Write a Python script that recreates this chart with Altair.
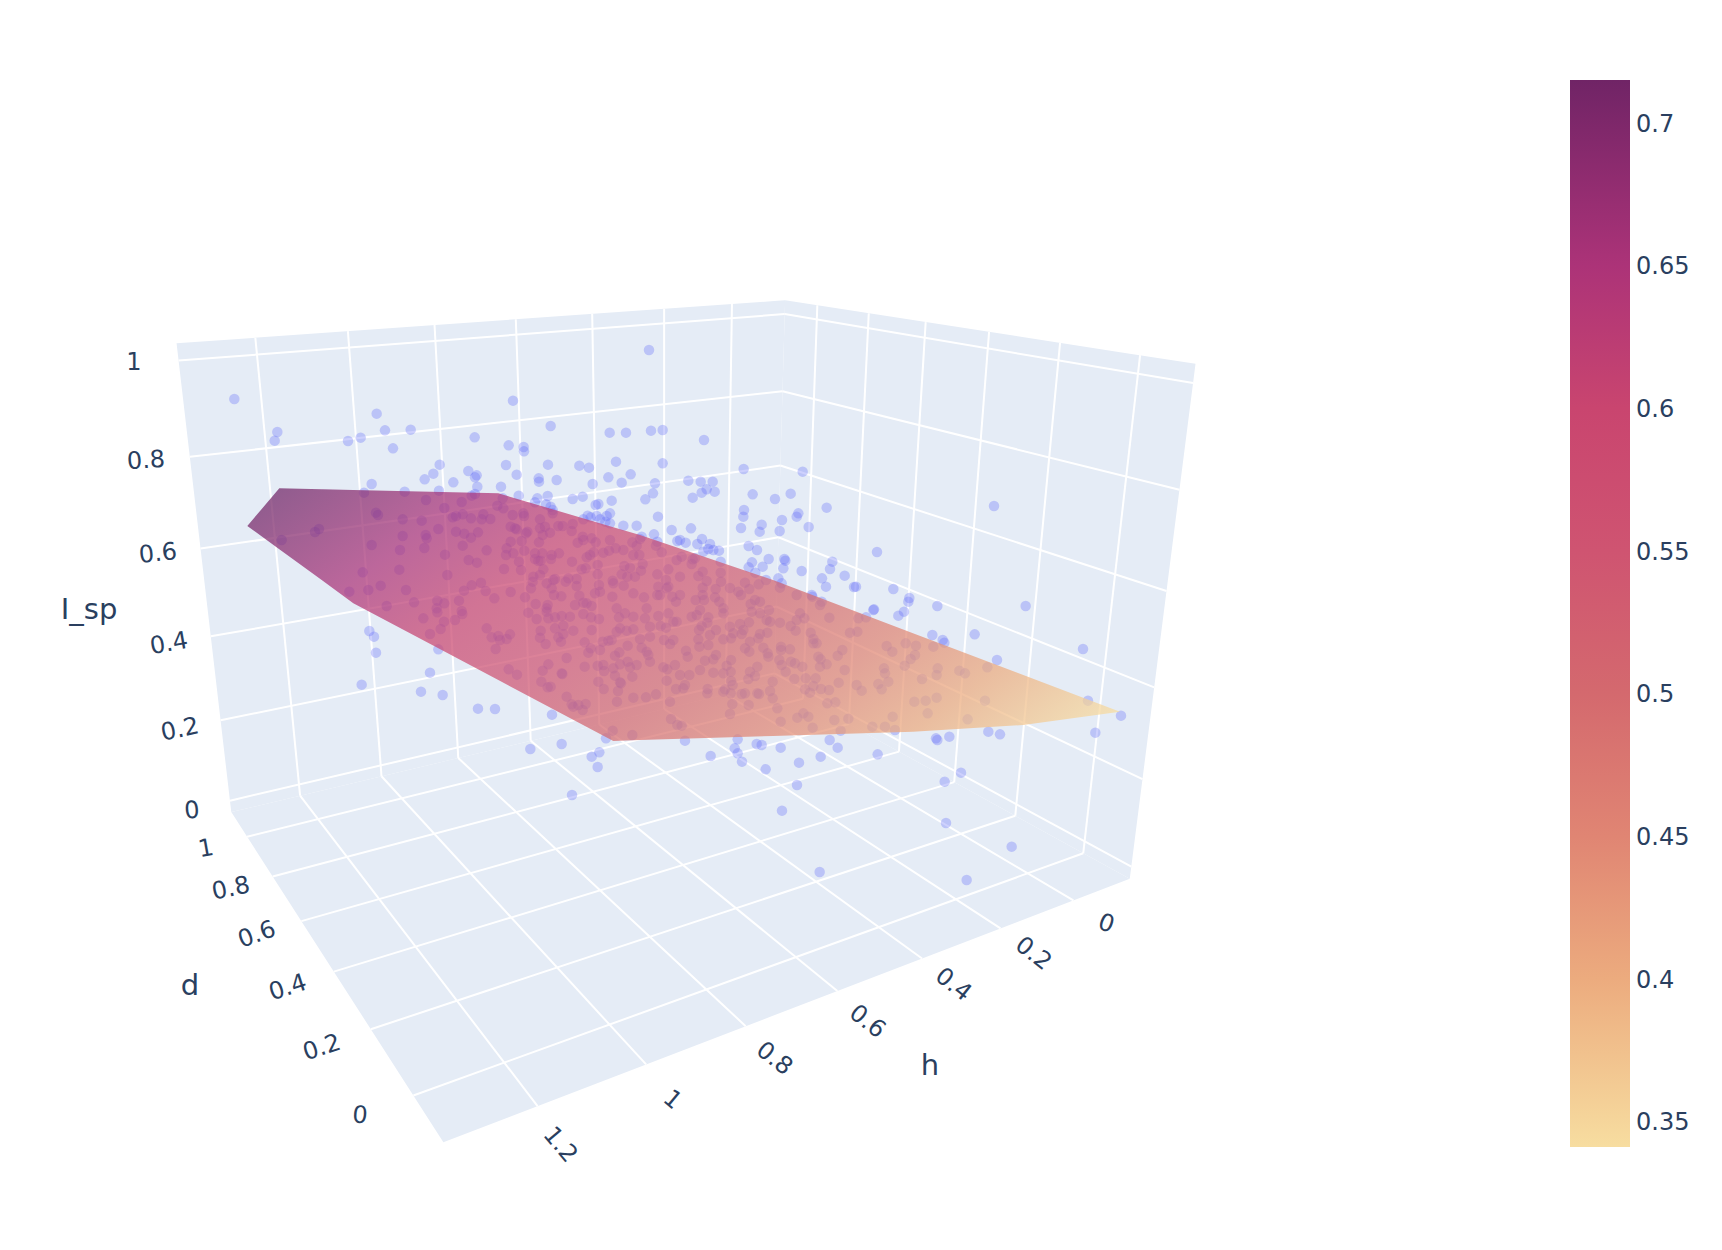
import numpy as np
import pandas as pd
import altair as alt

# ---------- axis values ----------
H_TICKS = [0, 0.2, 0.4, 0.6, 0.8, 1, 1.2]
D_TICKS = [0, 0.2, 0.4, 0.6, 0.8, 1]
Z_TICKS = [0, 0.2, 0.4, 0.6, 0.8, 1]
H_MIN, H_MAX = -0.165, 1.36
D_MIN, D_MAX = -0.125, 1.136
Z_MIN, Z_MAX = -0.029, 1.035

# ---------- camera calibration: axis location -> location on the picture ----------
CAL = [
    (1.2, D_MAX, Z_MAX, 253.3, 337.3), (1, D_MAX, Z_MAX, 346.7, 331.7), (.8, D_MAX, Z_MAX, 433.3, 326),
    (.6, D_MAX, Z_MAX, 515, 320), (.4, D_MAX, Z_MAX, 591.7, 315), (.2, D_MAX, Z_MAX, 663.3, 310), (0, D_MAX, Z_MAX, 731, 305),
    (1.2, D_MAX, Z_MIN, 297.7, 796.7), (1, D_MAX, Z_MIN, 380, 777.3), (.8, D_MAX, Z_MIN, 456.7, 759),
    (.6, D_MAX, Z_MIN, 529.3, 743), (.4, D_MAX, Z_MIN, 598, 725), (.2, D_MAX, Z_MIN, 663.3, 710),
    (H_MAX, D_MAX, 1, 179.3, 357.7), (H_MAX, D_MAX, .8, 190.7, 454.3), (H_MAX, D_MAX, .6, 202, 546.7),
    (H_MAX, D_MAX, .4, 212, 635), (H_MAX, D_MAX, .2, 221.7, 719.3), (H_MAX, D_MAX, 0, 230.7, 800),
    (H_MIN, D_MAX, 1, 785.7, 313), (H_MIN, D_MAX, .8, 783.3, 390.7), (H_MIN, D_MAX, .6, 781, 465),
    (H_MIN, D_MAX, .4, 779.3, 536.7), (H_MIN, D_MAX, 0, 776.7, 672),
    (H_MIN, 1, Z_MAX, 818.3, 306.7), (H_MIN, .8, Z_MAX, 869, 314.3), (H_MIN, .6, Z_MAX, 925.7, 323.3),
    (H_MIN, .4, Z_MAX, 989, 332.3), (H_MIN, .2, Z_MAX, 1060, 343.3), (H_MIN, 0, Z_MAX, 1139, 355.3),
    (H_MIN, .6, Z_MIN, 899.3, 750.7), (H_MIN, .4, Z_MIN, 954.3, 781), (H_MIN, .2, Z_MIN, 1015, 815), (H_MIN, 0, Z_MIN, 1082.7, 851.7),
    (H_MIN, D_MIN, Z_MAX, 1197, 363), (H_MIN, D_MIN, 1, 1193.6, 382), (H_MIN, D_MIN, 0, 1131.8, 865), (H_MIN, D_MIN, Z_MIN, 1130.6, 878.7),
    (0, D_MIN, Z_MIN, 1072.5, 900), (.2, D_MIN, Z_MIN, 999.7, 928.3), (.4, D_MIN, Z_MIN, 921.3, 959.3), (.6, D_MIN, Z_MIN, 837, 991.7),
    (.8, D_MIN, Z_MIN, 745.2, 1027.3), (1, D_MIN, Z_MIN, 643.8, 1066.7), (1.2, D_MIN, Z_MIN, 535.6, 1108.3), (H_MAX, D_MIN, Z_MIN, 445.7, 1143.3),
    (H_MAX, 0, Z_MIN, 414.3, 1095), (H_MAX, .2, Z_MIN, 372.2, 1029), (H_MAX, .4, Z_MIN, 335.4, 971.3), (H_MAX, .6, Z_MIN, 302.2, 920.7),
    (H_MAX, .8, Z_MIN, 273.4, 876), (H_MAX, 1, Z_MIN, 247.8, 836), (H_MAX, D_MAX, Z_MIN, 232.5, 813.3),
]

def fit_camera(cal):
    A, b = [], []
    for X, Y, Z, u, v in cal:
        A.append([X, Y, Z, 1, 0, 0, 0, 0, -u * X, -u * Y, -u * Z]); b.append(u)
        A.append([0, 0, 0, 0, X, Y, Z, 1, -v * X, -v * Y, -v * Z]); b.append(v)
    p = np.linalg.lstsq(np.array(A, float), np.array(b, float), rcond=None)[0]
    return np.append(p, 1).reshape(3, 4)

CAM = fit_camera(CAL)

def project(h, d, z):
    q = CAM @ np.array([h, d, z, 1.0])
    return q[0] / q[2], q[1] / q[2]

# ---------- scatter (crop origin + position in 3x crop units) ----------
P_A = [(283,357),(412,456),(404,482),(710,401),(735,451),(812,449),(624,483),(662,473),(759,505),(1004,472),(1119,362),(1232,438),(1409,458),(1458,458),(1106,496),(1151,501),(1152,514),(899,554),(880,581),(854,598),(985,573),(1010,586),(1005,592),(1098,555),(1130,584),(1224,554),(1318,557),(1347,563),(1428,545),(1405,592),(1472,583),(1196,595),
       (695,612),(672,638),(794,635),(708,698),(714,705),(788,718),(537,747),(525,756),(425,780),(695,795),(788,768),(780,810),(668,877),(778,869)]
P_B = [(27,210),(33,452),(68,450),(192,480),(68,550),(311,567),(488,575),(1062,678)]
P_C = [(628,35),(685,30),(722,17),(798,30),(740,78),(822,67),(688,153),(702,170),(708,218),(665,314),(1171,507),(1265,492),(1378,517),(1355,530),(1373,561),(1296,645)]
P_D = [(1157,78),(1004,163),(1329,207),(1071,240),(1344,362),(1443,407),(1366,458),(1045,455),(1080,463),(928,470),(908,180),(913,188),(1042,262),(958,272),(975,280),(1035,362),(983,418),(892,78),
       (135,482),(350,492),(365,495),(284,505),(293,520),(306,545),(212,528),(422,503),(593,503),(542,530),(713,523),(477,548),(377,568),(471,615),(426,692),(914,605),(963,578),(918,729),(1115,800),(539,876),(980,900),(888,475),(892,480)]
P_E = [(100,7),(357,5),(410,0),(518,12),(605,8),(705,10),(172,20),(243,20),(165,42),(155,47),(57,32),(296,47),(352,55),(383,48),(458,57),(488,50),(575,62),(699,40),(676,58),(535,72),(527,75),(345,67),(378,73),(392,80),(398,90),(570,100),(560,108),(530,108),(503,107),(490,118),(512,112),(540,118),(556,125),(570,130),(714,110),(610,137),(650,137),(755,150),(772,183),(702,163),(665,170),(712,185),
       (18,60),(125,66),(73,84),(248,55),(232,77),(250,85),(98,112),(108,108),(128,103),(153,115),(190,103),(185,118),(211,117),(5,122),(278,105),(310,100),(312,108),(398,100),(360,118),(55,147),(108,155),(133,161),(174,157),(153,173),(17,165),(20,175),(13,204),(128,197),(200,211),(75,224),(272,140),(285,145),(290,148),(322,155),(318,160),(360,145),(375,140),(368,165),(390,158),(415,138),(428,138),(458,132),(455,153),(272,185),(305,183),(357,187),(488,170),(490,180),(473,188),(515,175),(527,187),(570,180),(637,187),(660,177),(650,197),(708,197),(725,217),(260,205),(258,225),(280,220),(313,212),(345,220),(367,220),(345,237),(355,243),(297,245),(303,270),(395,225),(417,220),(393,237),(362,242),(456,245),(521,217),(510,225),(500,232),(550,218),(567,212),(587,205),(610,210),(640,225),(658,225),(770,240),(146,240),(171,248),(252,267),(82,285),(485,268),(497,265),(533,255),(533,283),(370,268),(360,285),(340,290),(338,305),(333,325),(405,297),(400,300),(445,295),(470,297),(470,318),(437,305),(380,310),(578,302),(580,310),(613,258),(630,263),(668,252),(605,283),(622,290),(645,290),(663,272),(712,283),(745,268),(738,300),(183,308),(155,316),(132,332),(197,333),(272,336),(223,355),(52,362),(73,370),(117,362),(315,352),(347,372),(383,375),(395,325),(402,345),(424,349),(478,347),(525,340),(537,315),(540,335),(577,350),(611,317),(640,340),(672,352),(715,320),(740,325),(745,320),(757,350),(712,345),(720,345),(50,385),(125,393),(465,375),(490,368),(500,370),(515,378),(590,385),(380,385),(768,365),(680,385)]
P_F = [(25,2),(62,5),(98,5),(80,28),(65,38),(104,35),(38,53),(218,43),(285,57),(332,41),(192,90),(190,110),(440,83),(355,100),(350,110),(306,120),(245,134),(183,144),(239,155),(299,153),(386,141),(33,145),(66,177),(0,180),(17,188),(52,192),(90,192),(85,207),(100,210),(117,212),(70,215),(206,198),(231,210),(266,237),(216,247),(248,260),(206,262),(313,237),(316,242),(310,265),(226,278),(122,245),(457,245),(450,267),(365,273),(494,287),(426,295),(591,216),(438,320),(522,321),(528,320),(640,327),(688,354),(685,365),(295,295),(258,300),(305,310),(582,388),(395,345),
       (5,230),(38,238),(45,235),(35,252),(68,275),(55,288),(80,303),(122,278),(123,305),(68,323),(107,327),(68,345),(47,360),(72,360),(105,352),(118,365),(150,324),(175,335),(195,308),(236,313),(208,327),(183,345),(300,323),(350,345),(397,350),(425,365),(420,375),(212,372),(225,360),(240,365),(130,385),(60,390),(267,390),(0,345),(0,290)]
P_G = [(10,25),(52,7),(127,12),(105,30),(72,35),(62,57),(30,72),(200,55),(215,82),(235,78),(240,90),(260,87),(270,73),(227,117),(55,118),(325,8),(350,27),(380,5),(385,25),(405,22),(425,18),(450,20),(490,12),(513,22),(537,27),(597,22),(615,10),(640,20),(675,25),(715,18),(745,10),(760,35),(362,62),(360,83),(377,102),(405,55),(430,47),(460,62),(430,72),(415,82),(423,95),(515,60),(590,65),(600,55),(620,62),(640,58),(690,50),(722,48),(738,53),(770,35),(690,80),(660,87),(575,90),(548,95),(565,92),(494,97),(512,115),(505,128),(540,120),(623,107),(665,113),(680,125),(685,135),(690,155),(732,90),(760,90),(750,102),(585,137),(598,127),(440,144),(385,163),(368,182),(266,178),(291,194),(425,190),(427,192),(494,170),(533,167),(550,165),(552,183),(580,175),(600,163),(623,155),(630,172),(650,165),(585,197),(637,200),(603,220),(600,217),(742,178),(730,172),(765,165),(740,212),(535,215),(551,237),(594,243),(364,215),(383,232),(392,230),(440,260),(455,283),(460,290),(475,285),(497,282),(488,300),(591,275),(640,263),(678,262),(708,253),(750,275),(768,237),(753,327),(772,345),(578,362),(637,375),
       (30,188),(3,245),(68,255),(174,296),(225,297),(396,314),(558,385)]
P_H = [(35,20),(50,15),(85,22),(130,10),(82,38),(65,48),(57,60),(108,60),(90,75),(55,88),(85,105),(58,110),(18,122),(23,140),(108,135),(100,148),(75,152),(153,150),(140,167),(60,180),(100,188),(130,190),(152,185),(150,50),(180,42),(207,37),(190,60),(160,70),(130,88),(153,85),(185,72),(215,5),(240,10),(260,30),(270,35),(300,38),(360,10),(373,25),(350,30),(332,48),(347,62),(448,23),(535,25),(558,22),(532,65),(510,68),(392,68),(400,87),(400,100),(410,100),(262,68),(240,72),(235,85),(210,95),(195,115),(208,125),(250,113),(263,130),(265,140),(303,110),(303,120),(330,118),(487,120),(473,137),(415,140),(422,148),(440,163),(420,170),(298,150),(305,165),(333,155),(345,160),(367,170),(317,185),(232,170),(210,185),(225,198),(205,207),(343,207),(377,205),(407,205),(400,228),(494,180),(476,218),(530,225),(545,242),(423,237),(447,240),(375,238),(390,248),(278,215),(270,243),(153,213),(158,225),(135,238),(130,245),(152,250),(83,237),(82,250),(15,225),(10,235),(0,195),(28,195),(185,252),(195,250),(232,250),(237,252),(278,265),(157,282),(206,285),(150,312),(292,295),(302,335),(442,280),(466,277),(352,323),(370,310),(385,320),(463,330),(505,326),(398,353),(482,362),(577,350),(615,350),(645,360),(620,108),(637,125),(677,100),(708,107),(705,135),(692,147),(674,167),(612,175),(615,190),(625,215),(595,222),(605,238),(726,207),(703,275),(737,272),(770,263),(743,310),(638,320),(773,175),(770,195),(760,110),(5,347),
       (580,0),(655,17),(672,5),(757,75),(173,388),(449,390)]
CROPS = [((140,280),P_A),((640,280),P_B),((140,580),P_C),((640,580),P_D),((420,480),P_E),((680,480),P_F),((420,610),P_G),((680,610),P_H)]

# ---------- fitted surface outline ----------
SURF_TOP = [(247.3,526),(279.3,488.3),(322.7,489.3),(453,492.3),(498.3,493.3),(640,535),(773,580),(1120,711.7)]
SURF_BOT = [(247.3,526),(321.7,580),(353.3,603.3),(613.3,741),(640,740),(913,731.7),(1023.3,725),(1120,711.7)]

# ---------- colour scale ----------
CB_VALUES = [0.341, 0.40, 0.45, 0.50, 0.55, 0.60, 0.65, 0.715]
CB_COLORS = ["#f7dda0", "#ecab7e", "#e08573", "#d4696e", "#cf5471", "#c9456f", "#ac3378", "#702466"]
CB_TICKS = [0.35, 0.4, 0.45, 0.5, 0.55, 0.6, 0.65, 0.7]
CB_TOP, CB_BOTTOM, CB_LEFT, CB_RIGHT = 80, 1147, 1570, 1630
GRAD_DIR = (0.6, 0.8)
GRAD_START, GRAD_END = 558, 1242

# ---------- labels ----------
Z_LABELS = [("0",192,811,-5),("0.2",180,730,-12),("0.4",169,644,-10),("0.6",158,554,-6),("0.8",146,461,-4),("1",134,363,0)]
D_LABELS = [("1",206,849,-10),("0.8",231,889,-12),("0.6",257,935,-20),("0.4",288,988,-18),("0.2",322,1048,-18),("0",360,1116,5)]
H_LABELS = [("0",1106,924,20),("0.2",1033,954,38),("0.4",953,985,38),("0.6",867,1022,38),("0.8",774,1059,38),("1",672,1100,40),("1.2",560,1145,50)]
TITLES = [("I_sp",89,610),("d",190,986),("h",930,1066)]

TEXT = "#2a3f5f"
PANE = "#e5ecf6"
W, H = 1706, 1234
xs = alt.Scale(domain=[8, 8 + W], nice=False, zero=False)
ys = alt.Scale(domain=[8 + H, 8], nice=False, zero=False)
X = alt.X("x:Q", scale=xs, axis=None)
Y = alt.Y("y:Q", scale=ys, axis=None)


def convex_area(name, pts):
    pts = np.array(pts)
    order = np.argsort(pts[:, 0])
    a, b = pts[order[0]], pts[order[-1]]
    side = (b[0] - a[0]) * (pts[:, 1] - a[1]) - (b[1] - a[1]) * (pts[:, 0] - a[0])
    upper = pts[side <= 0]
    lower = pts[side >= 0]
    upper = upper[np.argsort(upper[:, 0])]
    lower = lower[np.argsort(lower[:, 0])]
    xx = np.unique(pts[:, 0])
    return pd.DataFrame({"pane": name, "x": xx, "y": np.interp(xx, upper[:, 0], upper[:, 1]), "y2": np.interp(xx, lower[:, 0], lower[:, 1])})


left_wall = [project(H_MAX, D_MAX, Z_MAX), project(H_MIN, D_MAX, Z_MAX), project(H_MIN, D_MAX, Z_MIN), project(H_MAX, D_MAX, Z_MIN)]
right_wall = [project(H_MIN, D_MAX, Z_MAX), project(H_MIN, D_MIN, Z_MAX), project(H_MIN, D_MIN, Z_MIN), project(H_MIN, D_MAX, Z_MIN)]
floor = [project(H_MAX, D_MAX, Z_MIN), project(H_MIN, D_MAX, Z_MIN), project(H_MIN, D_MIN, Z_MIN), project(H_MAX, D_MIN, Z_MIN)]
panes = pd.concat([convex_area("left", left_wall), convex_area("right", right_wall), convex_area("floor", floor)])
pane_layer = alt.Chart(panes).mark_area(color=PANE, opacity=1).encode(X, Y, y2="y2:Q", detail="pane:N")

segs = []
def seg(a, b):
    k = len(segs)
    for p in (a, b):
        x, y = project(*p)
        segs.append(dict(seg="s%d" % k, x=x, y=y))
for t in H_TICKS:
    seg((t, D_MAX, Z_MIN), (t, D_MAX, Z_MAX))
    seg((t, D_MIN, Z_MIN), (t, D_MAX, Z_MIN))
for t in D_TICKS:
    seg((H_MIN, t, Z_MIN), (H_MIN, t, Z_MAX))
    seg((H_MIN, t, Z_MIN), (H_MAX, t, Z_MIN))
for t in Z_TICKS:
    seg((H_MAX, D_MAX, t), (H_MIN, D_MAX, t))
    seg((H_MIN, D_MAX, t), (H_MIN, D_MIN, t))
grid_layer = alt.Chart(pd.DataFrame(segs)).mark_line(color="white", strokeWidth=2, interpolate="linear").encode(X, Y, detail="seg:N")

rows = []
for (ox, oy), pts in CROPS:
    rows += [dict(x=ox + px / 3, y=oy + py / 3) for px, py in pts]
point_layer = alt.Chart(pd.DataFrame(rows)).mark_circle(color="#636efa", opacity=0.32, size=110).encode(X, Y)

# surface
top = np.array(SURF_TOP); bot = np.array(SURF_BOT)
sx = np.unique(np.r_[top[:, 0], bot[:, 0]])
surf = pd.DataFrame({"x": sx, "y": np.interp(sx, top[:, 0], top[:, 1]), "y2": np.interp(sx, bot[:, 0], bot[:, 1])})
x0, bw = sx.min(), sx.max() - sx.min()
y0 = top[:, 1].min(); bh = bot[:, 1].max() - y0
span = GRAD_END - GRAD_START
al = GRAD_DIR[0] * bw / span
be = GRAD_DIR[1] * bh / span
ga = (GRAD_DIR[0] * x0 + GRAD_DIR[1] * y0 - GRAD_START) / span
nn = al * al + be * be
u1, v1 = -ga * al / nn, -ga * be / nn
u2, v2 = u1 + al / nn, v1 + be / nn
vmin, vmax = CB_VALUES[0], CB_VALUES[-1]
surf_stops = sorted([alt.GradientStop(color=c, offset=round((vmax - v) / (vmax - vmin), 4)) for v, c in zip(CB_VALUES, CB_COLORS)], key=lambda s: s.offset)
surf_grad = alt.LinearGradient(gradient="linear", stops=surf_stops, x1=u1, y1=v1, x2=u2, y2=v2)
surf_layer = alt.Chart(surf).mark_area(fill=surf_grad, opacity=0.72, interpolate="linear").encode(X, Y, y2="y2:Q")

# colour bar
cb_stops = [alt.GradientStop(color=c, offset=round((v - vmin) / (vmax - vmin), 4)) for v, c in zip(CB_VALUES, CB_COLORS)]
cb_grad = alt.LinearGradient(gradient="linear", stops=cb_stops, x1=0, y1=1, x2=0, y2=0)
cb_layer = alt.Chart(pd.DataFrame([dict(x=CB_LEFT, x2=CB_RIGHT, y=CB_TOP, y2=CB_BOTTOM)])).mark_rect(fill=cb_grad).encode(X, x2="x2:Q", y=Y, y2="y2:Q")
cb_px = lambda v: CB_BOTTOM + (v - vmin) / (vmax - vmin) * (CB_TOP - CB_BOTTOM) + 2
cb_text = pd.DataFrame([dict(x=1636, y=cb_px(v), t=("%.2f" % v).rstrip("0")) for v in CB_TICKS])
cb_text_layer = alt.Chart(cb_text).mark_text(font="DejaVu Sans", fontSize=24, color=TEXT, align="left", baseline="middle").encode(X, Y, text="t:N")

labels = pd.DataFrame([dict(t=t, x=x, y=y, a=a % 360) for t, x, y, a in Z_LABELS + D_LABELS + H_LABELS])
label_layer = alt.Chart(labels).mark_text(font="DejaVu Sans", fontSize=24, color=TEXT, align="center", baseline="middle").encode(X, Y, text="t:N", angle=alt.Angle("a:Q", scale=None))
title_layer = alt.Chart(pd.DataFrame([dict(t=t, x=x, y=y) for t, x, y in TITLES])).mark_text(font="DejaVu Sans", fontSize=29, color=TEXT, align="center", baseline="middle").encode(X, Y, text="t:N")

chart = alt.layer(pane_layer, grid_layer, point_layer, surf_layer, cb_layer, cb_text_layer, label_layer, title_layer).properties(
    width=W, height=H, padding=0, autosize=alt.AutoSizeParams(type="none"), background="white"
).configure_view(stroke=None)
chart.save("out.html", embed_options={"renderer": "svg", "actions": False})
